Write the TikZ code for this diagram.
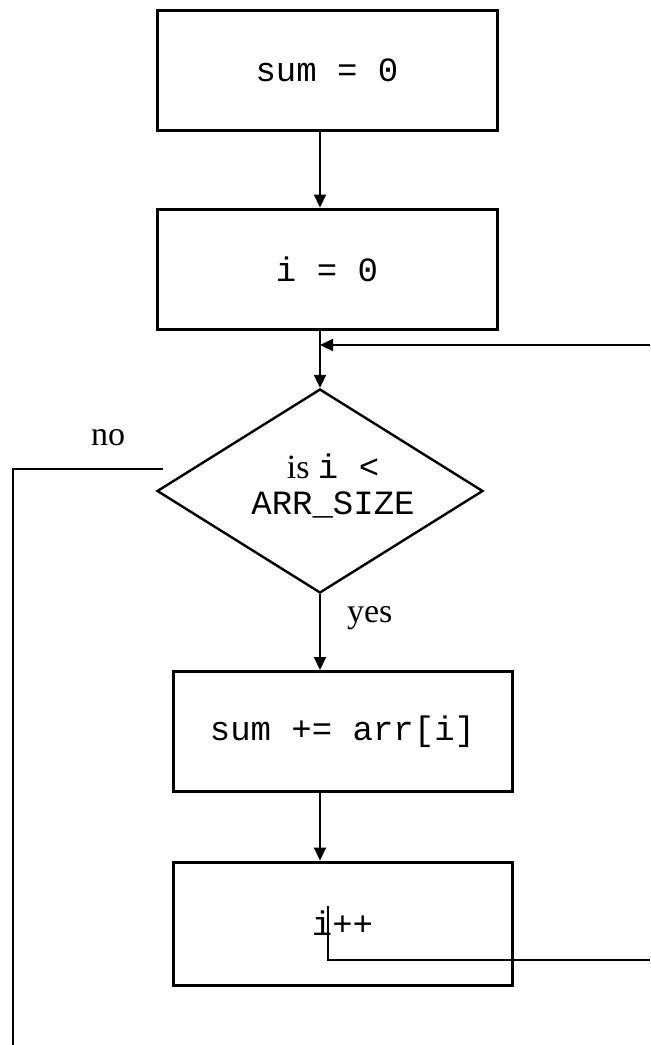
\documentclass[tikz,border=0pt]{standalone}
\usepackage{fontspec}
\setmainfont{Liberation Serif}
\setmonofont{Liberation Mono}
\usetikzlibrary{arrows.meta, shapes.geometric}

\begin{document}
\begin{tikzpicture}[
    x=0.5pt, y=0.5pt,
    codebox/.style={draw, line width=1.5pt, minimum height=60pt, inner sep=0pt,
                    font=\fontsize{17}{20}\selectfont\ttfamily},
    cond/.style={draw, shape=diamond, line width=1.2pt, aspect=1.6, inner sep=0pt,
                 minimum width=163pt, minimum height=102pt},
    condtext/.style={align=center, font=\fontsize{17}{17.5}\selectfont},
    arr/.style={-{Triangle[length=6.5pt, width=6pt]}, line width=1pt},
    link/.style={line width=1pt},
    answer/.style={font=\fontsize{17}{20}\selectfont}
  ]
  \useasboundingbox (0,0) rectangle (650,-1045);
  % Boxes
  \node[codebox, minimum width=170pt] (sum0) at (327,-70) {sum = 0};
  \node[codebox, minimum width=170pt] (init) at (327,-269) {i = 0};
  \node[cond] (dia) at (320,-491) {};
  \node[condtext] (ask) at (333,-486) {is \texttt{i <}\\\texttt{ARR\_SIZE}};
  \node[codebox, minimum width=169.5pt] (add) at (342.5,-731.5) {sum += arr[i]};
  \node[codebox, minimum width=169.5pt, minimum height=61.5pt] (inc) at (342.5,-923.5) {i++};
  % Free ends
  \coordinate (back) at (650,-345);
  \coordinate (incstart) at (328,-906);
  \coordinate (loopend) at (650,-960);
  \coordinate (nostart) at (163,-469);
  \coordinate (noend) at (13,-1045);
  % Arrows
  \draw[arr] (sum0.south -| dia.north) -- (init.north -| dia.north);
  \draw[arr] (init.south -| dia.north) -- (dia.north);
  \draw[arr] (back) -- (back -| dia.north);
  \draw[arr] (dia.south) -- (add.north -| dia.south);
  \draw[arr] (add.south -| dia.south) -- (inc.north -| dia.south);
  \draw[link] (incstart) |- (loopend);
  \draw[link] (nostart) -| (noend);
  % Labels
  \node[answer, anchor=base west] (yes) at (340,-622) {yes};
  \node[answer, anchor=base] (no) at (108,-445) {no};
\end{tikzpicture}
\end{document}
